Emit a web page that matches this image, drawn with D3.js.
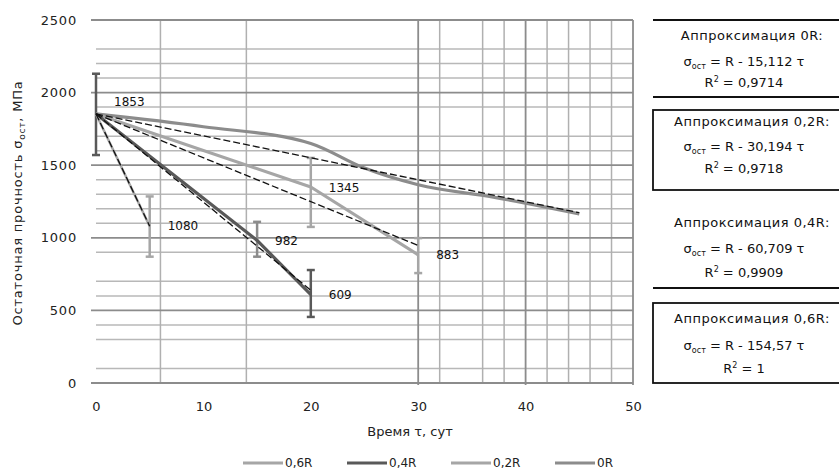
<!DOCTYPE html>
<html>
<head>
<meta charset="utf-8">
<script src="https://cdn.jsdelivr.net/npm/d3@7/dist/d3.min.js"></script>
<style>
  body { margin: 0; background: #fff; }
  svg { display: block; font-family: "DejaVu Sans", sans-serif; }
</style>
</head>
<body>
<svg></svg>
<script>
// Chart data
const tau0R = [0, 10, 20, 25, 30, 37, 45];
const sigma0R = [1853, 1765, 1650, 1480, 1365, 1280, 1165];
const tau02R = [0, 20, 30];
const sigma02R = [1853, 1350, 883];
const tau04R = [0, 15, 20];
const sigma04R = [1853, 982, 609];
const tau06R = [0, 5];
const sigma06R = [1853, 1080];

// trend slopes (R - k*tau) and their end times
const trendK = [15.112, 30.194, 60.709, 154.57];
const trendEnd = [45, 30, 20, 5];
const trendR2 = ["0,9714", "0,9718", "0,9909", "1"];
const trendNames = ["0R", "0,2R", "0,4R", "0,6R"];

// error bars: time, low, high
const errTau = [0, 5, 15, 20, 20, 30];
const errLow = [1570, 870, 870, 1075, 455, 757];
const errHigh = [2130, 1285, 1110, 1550, 778, 998];
const errColor = ["#595959", "#a6a6a6", "#8c8c8c", "#a6a6a6", "#595959", "#a6a6a6"];

// point labels
const labelTau = [0, 5, 15, 20, 20, 30];
const labelVal = [1853, 1080, 982, 609, 1345, 883];

const yTicks = [0, 500, 1000, 1500, 2000, 2500];
const yMinor = [2300, 2200, 2100, 1900, 1700, 1600, 1400, 1300, 1200, 1100, 900, 700, 600, 400, 300, 100];
const xTicks = [0, 10, 20, 30, 40, 50];
const xMinorLeft = [6, 14];
const xMinorRight = [32, 36, 38, 42, 44, 46, 48];
const xMajorRight = [30, 40, 50];

const legendNames = ["0,6R", "0,4R", "0,2R", "0R"];
const legendColors = ["#a6a6a6", "#595959", "#a6a6a6", "#8c8c8c"];

const width = 839, height = 470;
const svg = d3.select("svg").attr("width", width).attr("height", height);

const x = d3.scaleLinear().domain([0, 50]).range([96, 633]);
const y = d3.scaleLinear().domain([0, 2500]).range([383, 20]);

// Grid
const grid = svg.append("g");
grid.selectAll(".hminor").data(yMinor).enter().append("line")
    .attr("x1", x(0)).attr("x2", x(50))
    .attr("y1", d => y(d)).attr("y2", d => y(d))
    .attr("stroke", "#b8b8b8").attr("stroke-width", 1.5);
grid.selectAll(".vminor").data(xMinorLeft.concat(xMinorRight)).enter().append("line")
    .attr("x1", d => x(d)).attr("x2", d => x(d))
    .attr("y1", y(2500)).attr("y2", y(0))
    .attr("stroke", "#b0b0b0").attr("stroke-width", 1.5);
grid.selectAll(".vmajor").data(xMajorRight).enter().append("line")
    .attr("x1", d => x(d)).attr("x2", d => x(d))
    .attr("y1", y(2500)).attr("y2", y(0) + 2)
    .attr("stroke", "#8c8c8c").attr("stroke-width", 1.8);
grid.selectAll(".hmajor").data(yTicks).enter().append("line")
    .attr("x1", x(0) - 5).attr("x2", x(50))
    .attr("y1", d => y(d)).attr("y2", d => y(d))
    .attr("stroke", "#8c8c8c").attr("stroke-width", 1.8);

// Axes labels
const yAxis = d3.axisLeft(y).tickValues(yTicks).tickFormat(d3.format("d"))
    .tickSize(0).tickPadding(14);
svg.append("g").attr("transform", `translate(${x(0) - 5},0)`).call(yAxis)
    .call(g => g.select(".domain").remove())
    .call(g => g.selectAll("text").attr("font-size", 13).attr("fill", "#222")
        .attr("font-family", "DejaVu Sans").attr("letter-spacing", 0.8));

const xAxis = d3.axisBottom(x).tickValues(xTicks).tickFormat(d3.format("d"))
    .tickSize(0).tickPadding(19);
svg.append("g").attr("transform", `translate(0,${y(0)})`).call(xAxis)
    .call(g => g.select(".domain").remove())
    .call(g => g.selectAll("text").attr("font-size", 13).attr("fill", "#222")
        .attr("font-family", "DejaVu Sans"));

svg.append("text")
    .attr("x", 410).attr("y", 436)
    .attr("text-anchor", "middle").attr("font-size", 13).attr("fill", "#222")
    .text("Время τ, сут");

const yTitle = svg.append("text")
    .attr("transform", "translate(22,203) rotate(-90)")
    .attr("text-anchor", "middle").attr("font-size", 13).attr("fill", "#222")
    .attr("letter-spacing", 0.8);
yTitle.append("tspan").text("Остаточная прочность σ");
yTitle.append("tspan").attr("font-size", 9).attr("dy", 3).text("ост");
yTitle.append("tspan").attr("dy", -3).text(", МПа");

// Error bars
const errs = errTau.map((t, i) => ({ t, lo: errLow[i], hi: errHigh[i], c: errColor[i] }));
const eb = svg.append("g");
errs.forEach(d => {
    eb.append("line").attr("x1", x(d.t)).attr("x2", x(d.t))
        .attr("y1", y(d.lo)).attr("y2", y(d.hi))
        .attr("stroke", d.c).attr("stroke-width", 2.5);
    [d.lo, d.hi].forEach(v => {
        eb.append("line").attr("x1", x(d.t) - 4).attr("x2", x(d.t) + 4)
            .attr("y1", y(v)).attr("y2", y(v))
            .attr("stroke", d.c).attr("stroke-width", 2.5);
    });
});

// Series lines
const line = d3.line().x(d => x(d[0])).y(d => y(d[1]));
const smooth = d3.line().x(d => x(d[0])).y(d => y(d[1])).curve(d3.curveMonotoneX);
const seriesData = [
    { pts: d3.zip(tau0R, sigma0R), color: "#8c8c8c", w: 3.2, gen: smooth },
    { pts: d3.zip(tau02R, sigma02R), color: "#a6a6a6", w: 3.2, gen: line },
    { pts: d3.zip(tau04R, sigma04R), color: "#595959", w: 3.2, gen: line },
    { pts: d3.zip(tau06R, sigma06R), color: "#a6a6a6", w: 2.5, gen: line }
];
seriesData.forEach(s => {
    svg.append("path").attr("d", s.gen(s.pts))
        .attr("fill", "none").attr("stroke", s.color)
        .attr("stroke-width", s.w).attr("stroke-linejoin", "round");
});

// Trend lines
trendK.forEach((k, i) => {
    const R = 1853;
    svg.append("path")
        .attr("d", line([[0, R], [trendEnd[i], R - k * trendEnd[i]]]))
        .attr("fill", "none").attr("stroke", "#111")
        .attr("stroke-width", 1.3).attr("stroke-dasharray", "7,3");
});

// Point labels
svg.selectAll(".plabel").data(labelTau.map((t, i) => [t, labelVal[i]])).enter().append("text")
    .attr("x", d => x(d[0]) + 18)
    .attr("y", (d, i) => y(d[1]) + (i === 0 ? -12 : 0))
    .attr("dy", "0.35em")
    .attr("font-size", 12).attr("fill", "#111")
    .text(d => d[1]);

// Approximation boxes
const boxTop = [20, 110, 212, 303];
const boxBottom = [97, 190, 288, 383];
const boxFull = [false, true, false, true];
const boxLineY = [[35, 61, 82], [121, 146, 168], [222, 248, 272], [318, 345, 368]];
const bx = 653, bw = 200, tx = 744;

trendK.forEach((k, i) => {
    const g = svg.append("g");
    if (boxFull[i]) {
        g.append("rect").attr("x", bx).attr("y", boxTop[i])
            .attr("width", bw).attr("height", boxBottom[i] - boxTop[i])
            .attr("fill", "#fff").attr("stroke", "#111").attr("stroke-width", 1.8);
    } else {
        if (i === 0) g.append("line").attr("x1", bx).attr("x2", bx + bw)
            .attr("y1", boxTop[i]).attr("y2", boxTop[i]).attr("stroke", "#111").attr("stroke-width", 1.8);
        g.append("line").attr("x1", bx).attr("x2", bx + bw)
            .attr("y1", boxBottom[i]).attr("y2", boxBottom[i]).attr("stroke", "#111").attr("stroke-width", 1.8);
    }
    const ly = boxLineY[i];
    g.append("text").attr("x", tx + 8).attr("y", ly[0]).attr("dy", "0.35em")
        .attr("text-anchor", "middle").attr("font-size", 13).attr("fill", "#111")
        .attr("letter-spacing", 0.5)
        .text(`Аппроксимация ${trendNames[i]}:`);
    const t2 = g.append("text").attr("x", tx).attr("y", ly[1]).attr("dy", "0.35em")
        .attr("text-anchor", "middle").attr("font-size", 13).attr("fill", "#111");
    t2.append("tspan").text("σ");
    t2.append("tspan").attr("font-size", 8).attr("dy", 3).text("ост");
    t2.append("tspan").attr("dy", -3).text(` = R - ${String(k).replace(".", ",")} τ`);
    const t3 = g.append("text").attr("x", tx).attr("y", ly[2]).attr("dy", "0.35em")
        .attr("text-anchor", "middle").attr("font-size", 13).attr("fill", "#111");
    t3.append("tspan").text("R");
    t3.append("tspan").attr("font-size", 8).attr("dy", -5).text("2");
    t3.append("tspan").attr("dy", 5).text(` = ${trendR2[i]}`);
});

// Legend
const legend = svg.append("g").attr("transform", "translate(243,463)");
legendNames.forEach((n, i) => {
    const g = legend.append("g").attr("transform", `translate(${i * 104},0)`);
    g.append("line").attr("x1", 0).attr("x2", 40).attr("y1", 0).attr("y2", 0)
        .attr("stroke", legendColors[i]).attr("stroke-width", 3);
    g.append("text").attr("x", 42).attr("dy", "0.35em")
        .attr("font-size", 12).attr("fill", "#222").text(n);
});
</script>
</body>
</html>
